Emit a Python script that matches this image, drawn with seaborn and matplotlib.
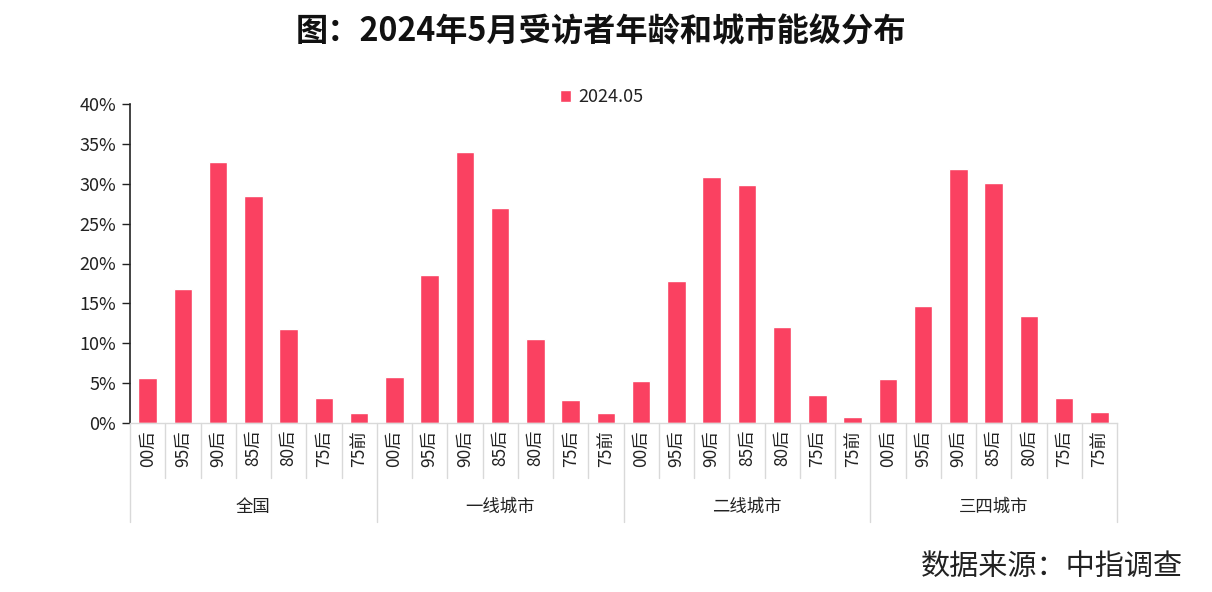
import numpy as np
import pandas as pd
import matplotlib
matplotlib.use("Agg")
import matplotlib.pyplot as plt
import matplotlib.transforms as mtransforms
from matplotlib.ticker import PercentFormatter
import seaborn as sns

groups = ["全国", "一线城市", "二线城市", "三四城市"]
ages = ["00后", "95后", "90后", "85后", "80后", "75后", "75前"]
v_all = [5.6, 16.8, 32.7, 28.5, 11.8, 3.1, 1.2]
v_tier1 = [5.8, 18.5, 34.0, 27.0, 10.5, 2.9, 1.2]
v_tier2 = [5.3, 17.8, 30.8, 29.9, 12.0, 3.5, 0.8]
v_tier34 = [5.5, 14.7, 31.8, 30.1, 13.4, 3.1, 1.4]
series_name = "2024.05"
title = "图：2024年5月受访者年龄和城市能级分布"
source = "数据来源：中指调查"

sns.set_theme(style="white")
plt.rcParams["font.family"] = ["Noto Sans CJK SC", "DejaVu Sans"]

values = [v_all, v_tier1, v_tier2, v_tier34]
rows = []
for g, vals in zip(groups, values):
    for a, v in zip(ages, vals):
        rows.append({"key": f"{g}|{a}", "group": g, "age": a, "value": v / 100})
df = pd.DataFrame(rows)

fig = plt.figure(figsize=(12.12, 5.92), dpi=100)
ax = fig.add_axes([130/1212, 1-423/592, (1117-130)/1212, (423-104)/592])

color = "#FA4161"
sns.barplot(data=df, x="key", y="value", color=color, width=0.52, ax=ax,
            label=series_name, saturation=1)

ax.set_ylim(0, 0.40)
ax.set_xlim(-0.5, len(df) - 0.5)
ax.set_yticks(np.arange(0, 0.41, 0.05))
ax.yaxis.set_major_formatter(PercentFormatter(1.0, decimals=0))
ax.set_xlabel("")
ax.set_ylabel("")
ax.set_xticks(range(len(df)))
ax.set_xticklabels(df["age"], rotation=90, fontsize=12.5, color="#222222")
ax.tick_params(axis="x", length=0, pad=5)
ax.tick_params(axis="y", left=True, length=6, width=1, color="#222222",
               labelsize=13, labelcolor="#222222", pad=4)
for s in ["top", "right"]:
    ax.spines[s].set_visible(False)
ax.spines["left"].set_color("#222222")
ax.spines["left"].set_linewidth(1.2)
ax.spines["bottom"].set_color("#d9d9d9")
ax.spines["bottom"].set_linewidth(1)

trans = mtransforms.blended_transform_factory(ax.transData, ax.transAxes)
n = len(ages)
for i in range(len(df) + 1):
    x = i - 0.5
    if i % n == 0:
        y_end = -0.31
    else:
        y_end = -0.172
    ax.plot([x, x], [0, y_end], color="#d9d9d9", lw=1, transform=trans, clip_on=False)

for gi, g in enumerate(groups):
    xc = gi * n + (n - 1) / 2
    ax.text(xc, -0.263, g, transform=trans, ha="center", va="center",
            fontsize=12.5, color="#222222")

leg = ax.legend(loc="upper center", bbox_to_anchor=(0.478, 1.10), frameon=False,
                fontsize=13, handlelength=0.6, handleheight=0.6, handletextpad=0.4)
for t in leg.get_texts():
    t.set_color("#222222")

fig.text(0.496, 1-32/592, title, ha="center", va="center", fontsize=23.2,
         fontweight="bold", color="#111111")
fig.text(1183/1212, 1-567/592, source, ha="right", va="center", fontsize=21,
         color="#222222")

fig.savefig("out.png", dpi=100)
